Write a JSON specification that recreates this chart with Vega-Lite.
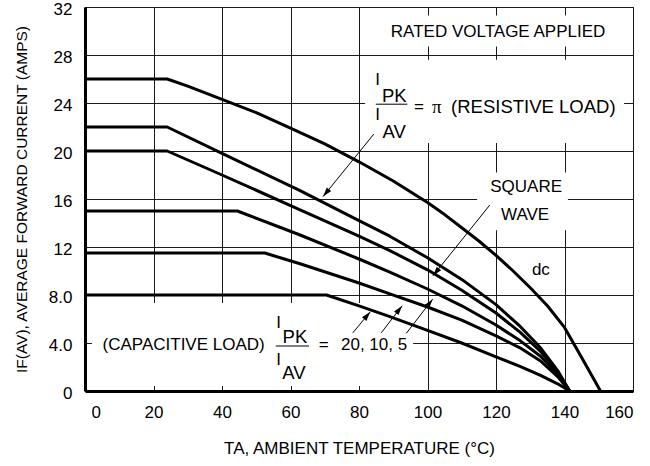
{
  "$schema": "https://vega.github.io/schema/vega-lite/v6.json",
  "width": 548,
  "height": 384,
  "autosize": {"type": "none"},
  "padding": {"left": 85, "top": 7, "right": 17, "bottom": 75},
  "background": "white",
  "config": {
    "font": "Liberation Sans",
    "view": {"stroke": "black", "strokeWidth": 1},
    "axis": {
      "grid": true, "gridColor": "#1a1a1a", "gridWidth": 1, "gridOpacity": 1,
      "ticks": false, "domainColor": "black", "domainWidth": 3,
      "labelFont": "Liberation Sans", "labelFontSize": 17, "labelColor": "black",
      "titleFont": "Liberation Sans", "titleFontSize": 17, "titleFontWeight": "normal", "titleColor": "black"
    }
  },
  "datasets": {
    "curves": [
      {"series": "dc", "x": 0, "y": 26}, {"series": "dc", "x": 24, "y": 26}, {"series": "dc", "x": 30, "y": 25.4}, {"series": "dc", "x": 40, "y": 24.3}, {"series": "dc", "x": 50, "y": 23.2}, {"series": "dc", "x": 60, "y": 21.9}, {"series": "dc", "x": 70, "y": 20.6}, {"series": "dc", "x": 80, "y": 19.1}, {"series": "dc", "x": 90, "y": 17.5}, {"series": "dc", "x": 100, "y": 15.7}, {"series": "dc", "x": 105, "y": 14.7}, {"series": "dc", "x": 110, "y": 13.6}, {"series": "dc", "x": 115, "y": 12.5}, {"series": "dc", "x": 120, "y": 11.3}, {"series": "dc", "x": 125, "y": 10.0}, {"series": "dc", "x": 130, "y": 8.6}, {"series": "dc", "x": 135, "y": 7.1}, {"series": "dc", "x": 140, "y": 5.3}, {"series": "dc", "x": 145, "y": 2.8}, {"series": "dc", "x": 150.5, "y": 0},
      {"series": "s22", "x": 0, "y": 22}, {"series": "s22", "x": 24, "y": 22}, {"series": "s22", "x": 40, "y": 19.8}, {"series": "s22", "x": 62.8, "y": 16.7}, {"series": "s22", "x": 80, "y": 14.2}, {"series": "s22", "x": 89, "y": 12.9}, {"series": "s22", "x": 100, "y": 11.1}, {"series": "s22", "x": 110, "y": 9.3}, {"series": "s22", "x": 120, "y": 7.2}, {"series": "s22", "x": 127, "y": 5.4}, {"series": "s22", "x": 133, "y": 3.6}, {"series": "s22", "x": 138, "y": 1.7}, {"series": "s22", "x": 141.5, "y": 0},
      {"series": "s20", "x": 0, "y": 20}, {"series": "s20", "x": 24, "y": 20}, {"series": "s20", "x": 40, "y": 18.0}, {"series": "s20", "x": 62.8, "y": 15.1}, {"series": "s20", "x": 80, "y": 12.9}, {"series": "s20", "x": 89, "y": 11.7}, {"series": "s20", "x": 100, "y": 10.1}, {"series": "s20", "x": 110, "y": 8.4}, {"series": "s20", "x": 120, "y": 6.5}, {"series": "s20", "x": 127, "y": 4.9}, {"series": "s20", "x": 133, "y": 3.3}, {"series": "s20", "x": 138, "y": 1.55}, {"series": "s20", "x": 141.5, "y": 0},
      {"series": "s15", "x": 0, "y": 15}, {"series": "s15", "x": 44.5, "y": 15}, {"series": "s15", "x": 62.8, "y": 13.0}, {"series": "s15", "x": 80, "y": 11.0}, {"series": "s15", "x": 89, "y": 9.9}, {"series": "s15", "x": 100, "y": 8.5}, {"series": "s15", "x": 110, "y": 7.1}, {"series": "s15", "x": 120, "y": 5.5}, {"series": "s15", "x": 127, "y": 4.2}, {"series": "s15", "x": 133, "y": 2.9}, {"series": "s15", "x": 138, "y": 1.4}, {"series": "s15", "x": 141.5, "y": 0},
      {"series": "s11", "x": 0, "y": 11.5}, {"series": "s11", "x": 52.5, "y": 11.5}, {"series": "s11", "x": 62.8, "y": 10.6}, {"series": "s11", "x": 80, "y": 9.0}, {"series": "s11", "x": 89, "y": 8.1}, {"series": "s11", "x": 100, "y": 7.0}, {"series": "s11", "x": 110, "y": 5.9}, {"series": "s11", "x": 120, "y": 4.6}, {"series": "s11", "x": 127, "y": 3.6}, {"series": "s11", "x": 133, "y": 2.5}, {"series": "s11", "x": 138, "y": 1.2}, {"series": "s11", "x": 141.5, "y": 0},
      {"series": "s8", "x": 0, "y": 8}, {"series": "s8", "x": 70.5, "y": 8}, {"series": "s8", "x": 80, "y": 7.1}, {"series": "s8", "x": 89, "y": 6.2}, {"series": "s8", "x": 99, "y": 5.15}, {"series": "s8", "x": 110, "y": 4.0}, {"series": "s8", "x": 120, "y": 2.85}, {"series": "s8", "x": 127, "y": 2.05}, {"series": "s8", "x": 133, "y": 1.3}, {"series": "s8", "x": 138, "y": 0.6}, {"series": "s8", "x": 141.5, "y": 0}
    ],
    "boxes": [
      {"x": 80.6, "x2": 159.6, "y": 28.7, "y2": 31.3},
      {"x": 81.8, "x2": 157.4, "y": 20.67, "y2": 27.6},
      {"x": 114.5, "x2": 141.0, "y": 13.4, "y2": 18.2},
      {"x": 2.0, "x2": 95.8, "y": 0.42, "y2": 7.33}
    ],
    "arrows": [
      {"x": 69.5, "y": 16.2, "x2": 84.3, "y2": 21.4, "ang": 219},
      {"x": 101.6, "y": 9.6, "x2": 118.2, "y2": 15.5, "ang": 219},
      {"x": 83.3, "y": 6.6, "x2": 78.2, "y2": 4.85, "ang": 40},
      {"x": 92.6, "y": 7.1, "x2": 86.5, "y2": 4.85, "ang": 38},
      {"x": 101.5, "y": 7.65, "x2": 93.8, "y2": 4.8, "ang": 38}
    ],
    "texts": [
      {"x": 120.6, "y": 29.9, "label": "RATED VOLTAGE APPLIED"},
      {"x": 128.8, "y": 16.96, "label": "SQUARE"},
      {"x": 128.5, "y": 14.7, "label": "WAVE"},
      {"x": 133.1, "y": 10.1, "label": "dc"},
      {"x": 28.8, "y": 3.83, "label": "(CAPACITIVE  LOAD)"},
      {"x": 56.5, "y": 5.7, "label": "I"},
      {"x": 56.5, "y": 2.58, "label": "I"},
      {"x": 69.7, "y": 3.83, "label": "="},
      {"x": 84.4, "y": 3.83, "label": "20, 10, 5"},
      {"x": 85.4, "y": 25.9, "label": "I"},
      {"x": 85.4, "y": 22.97, "label": "I"},
      {"x": 97.5, "y": 23.7, "label": "="}
    ],
    "bigtexts": [
      {"x": 90.3, "y": 24.6, "label": "PK"},
      {"x": 90.3, "y": 21.6, "label": "AV"},
      {"x": 61.3, "y": 4.5, "label": "PK"},
      {"x": 61.0, "y": 1.54, "label": "AV"},
      {"x": 130.9, "y": 23.7, "label": "(RESISTIVE  LOAD)"}
    ],
    "serif": [
      {"x": 102.7, "y": 23.7, "label": "π"}
    ],
    "bars": [
      {"x": 84.9, "x2": 94.1, "y": 23.9},
      {"x": 55.7, "x2": 65.4, "y": 3.75}
    ]
  },
  "encoding": {
    "x": {
      "field": "x", "type": "quantitative",
      "scale": {"domain": [0, 160], "nice": false, "zero": false},
      "axis": {
        "title": "TA, AMBIENT TEMPERATURE (°C)",
        "values": [0, 20, 40, 60, 80, 100, 120, 140, 160],
        "labelPadding": 13,
        "labelOffset": {"condition": {"test": "datum.value == 0", "value": 6}, "value": 0},
        "titlePadding": 20
      }
    },
    "y": {
      "field": "y", "type": "quantitative",
      "scale": {"domain": [0, 32], "nice": false, "zero": false},
      "axis": {
        "title": "IF(AV), AVERAGE FORWARD CURRENT (AMPS)",
        "titleFontSize": 15.5,
        "values": [0, 4, 8, 12, 16, 20, 24, 28, 32],
        "labelExpr": "datum.value == 0 ? '0' : (datum.value < 10 ? format(datum.value, '.1f') : format(datum.value, 'd'))",
        "labelPadding": 13,
        "labelOffset": 2,
        "titlePadding": 19
      }
    }
  },
  "layer": [
    {
      "data": {"name": "boxes"},
      "mark": {"type": "rect", "fill": "white", "stroke": null},
      "encoding": {"x2": {"field": "x2"}, "y2": {"field": "y2"}}
    },
    {
      "data": {"name": "curves"},
      "mark": {"type": "line", "color": "black", "strokeWidth": 3, "strokeJoin": "round"},
      "encoding": {"detail": {"field": "series", "type": "nominal"}}
    },
    {
      "data": {"name": "arrows"},
      "mark": {"type": "rule", "color": "black", "strokeWidth": 1},
      "encoding": {"x2": {"field": "x2"}, "y2": {"field": "y2"}}
    },
    {
      "data": {"name": "arrows"},
      "mark": {"type": "point", "shape": "M0,0L-0.6,2L0.6,2Z", "filled": true, "color": "black", "opacity": 1, "size": 90},
      "encoding": {"angle": {"field": "ang", "type": "quantitative", "scale": null}}
    },
    {
      "data": {"name": "bars"},
      "mark": {"type": "rule", "color": "black", "strokeWidth": 1},
      "encoding": {"x2": {"field": "x2"}}
    },
    {
      "data": {"name": "texts"},
      "mark": {"type": "text", "font": "Liberation Sans", "fontSize": 17, "color": "black", "align": "center", "baseline": "middle"},
      "encoding": {"text": {"field": "label"}}
    },
    {
      "data": {"name": "bigtexts"},
      "mark": {"type": "text", "font": "Liberation Sans", "fontSize": 18.5, "color": "black", "align": "center", "baseline": "middle"},
      "encoding": {"text": {"field": "label"}}
    },
    {
      "data": {"name": "serif"},
      "mark": {"type": "text", "font": "Liberation Serif", "fontSize": 19, "color": "black", "align": "center", "baseline": "middle"},
      "encoding": {"text": {"field": "label"}}
    }
  ]
}
